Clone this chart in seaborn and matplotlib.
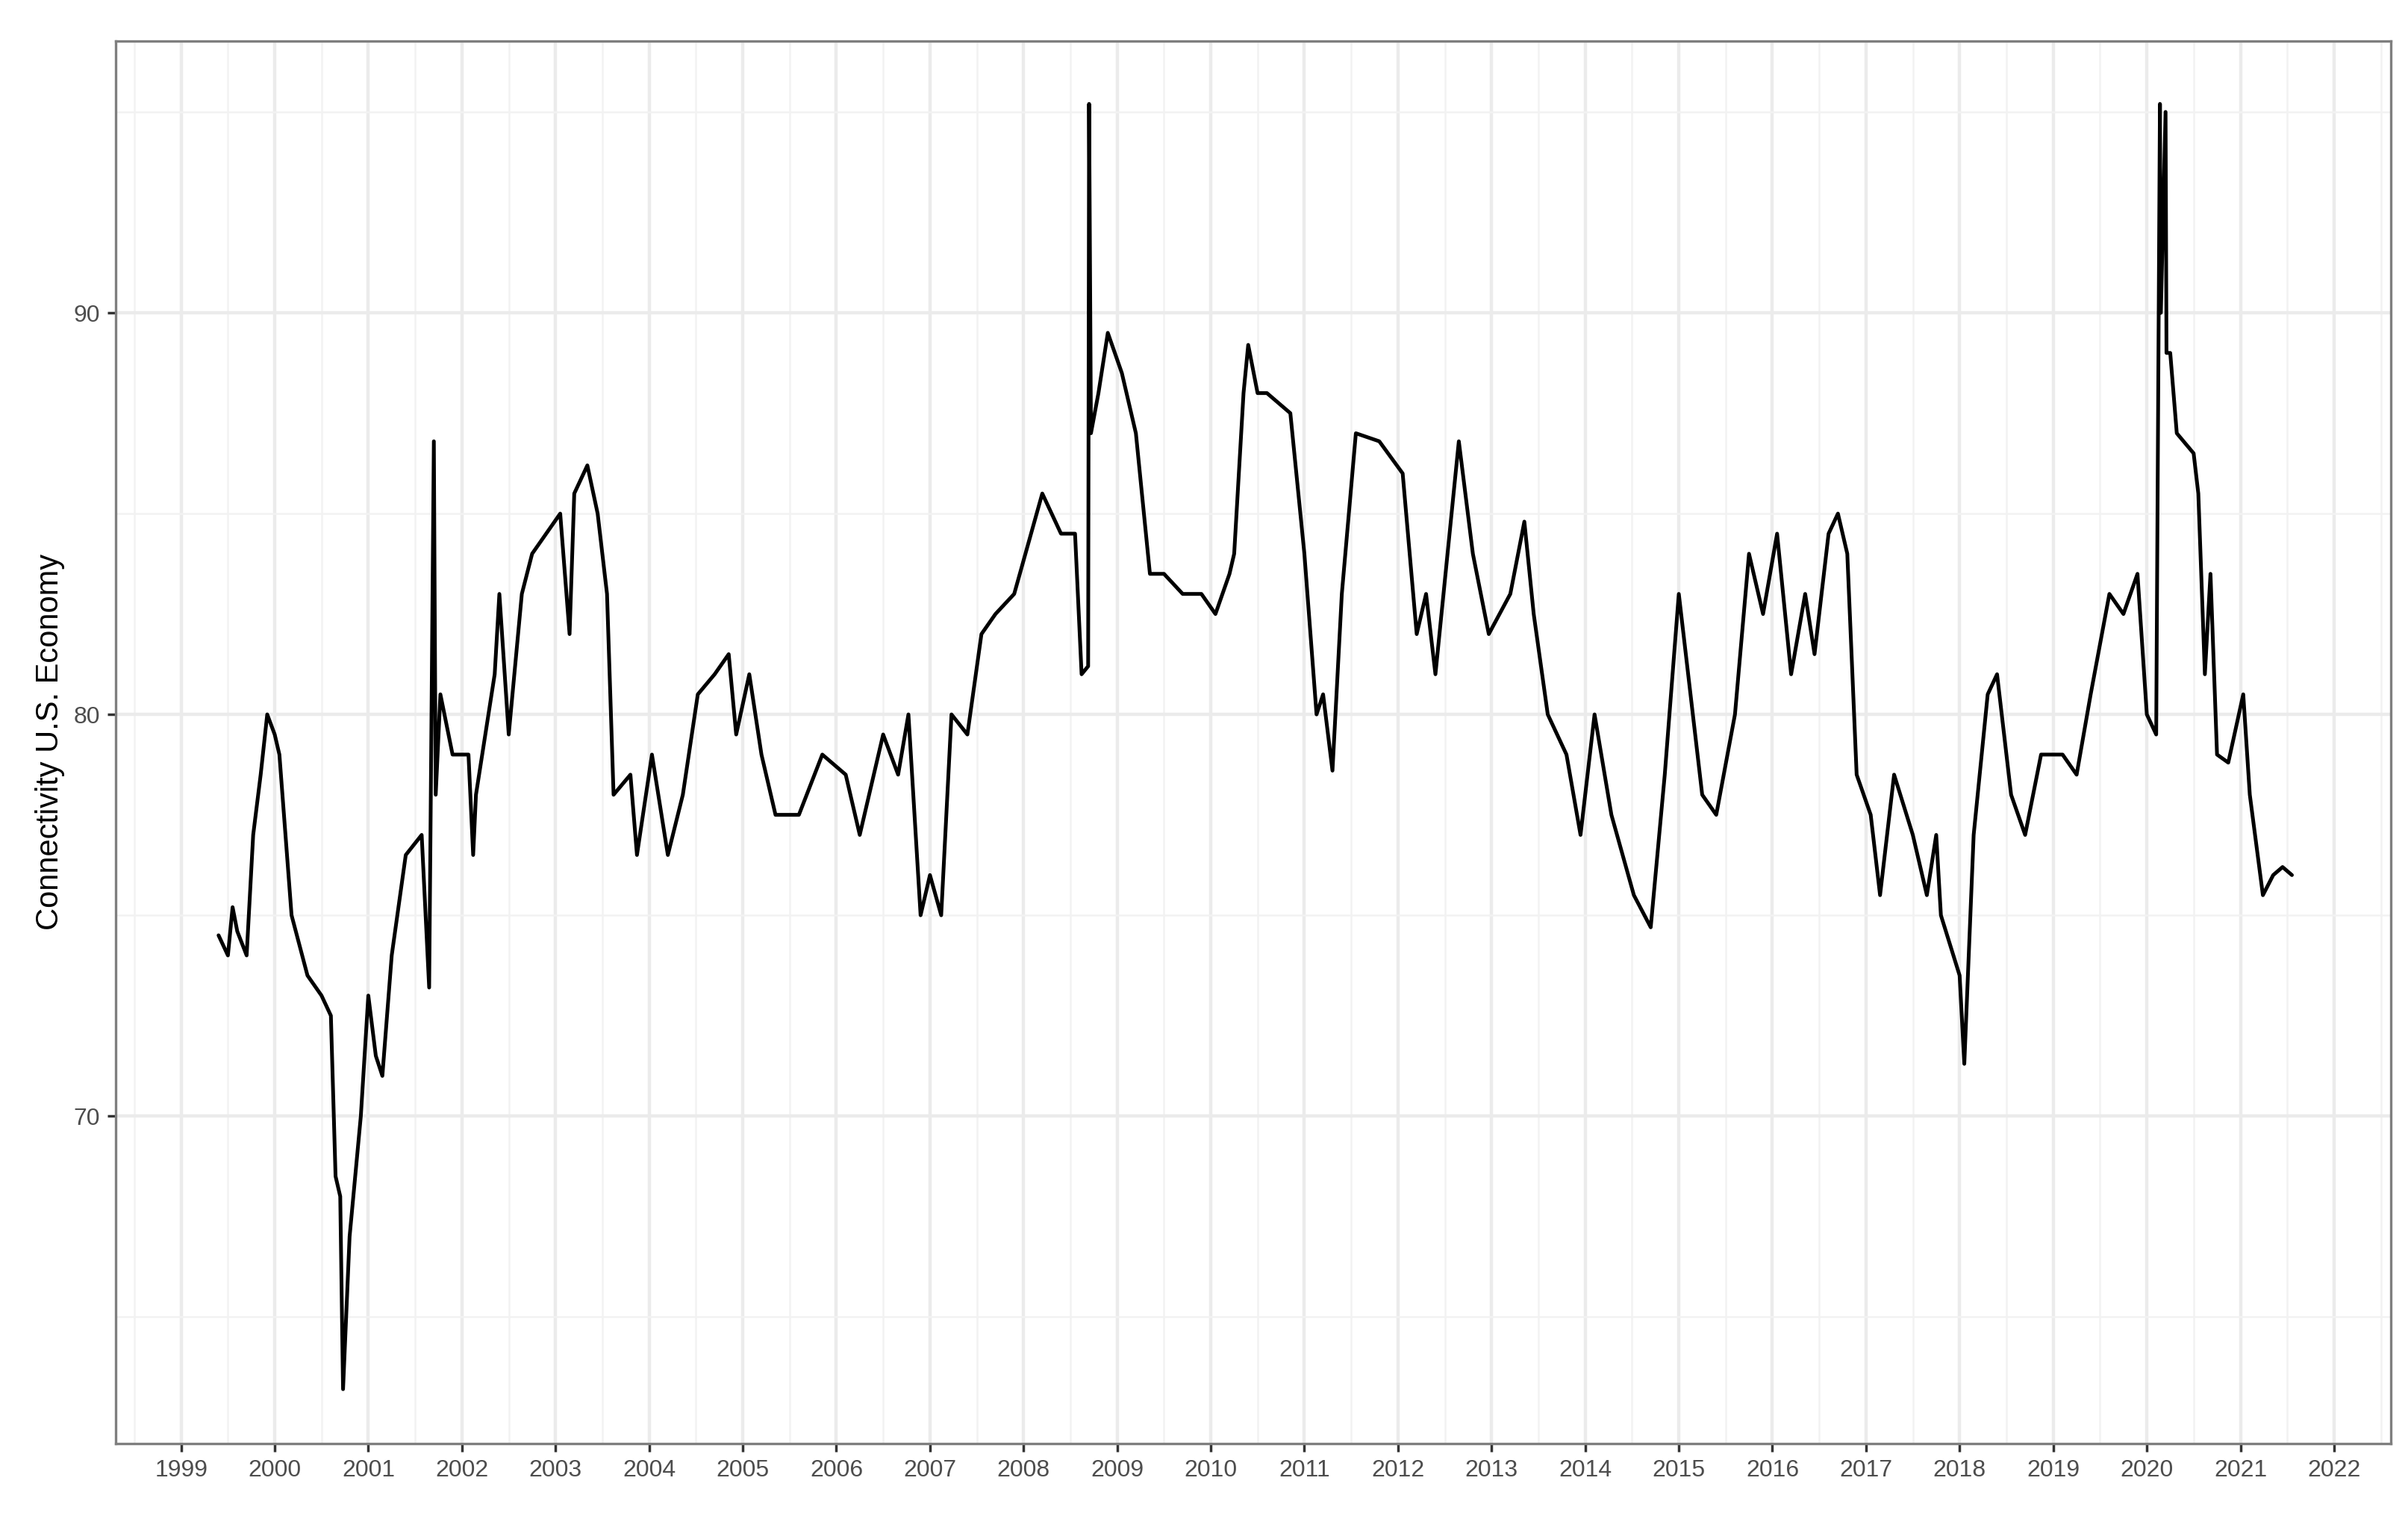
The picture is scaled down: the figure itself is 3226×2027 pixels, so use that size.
import numpy as np
import pandas as pd
import seaborn as sns
import matplotlib.pyplot as plt
from matplotlib.ticker import MultipleLocator

# values (decimal year, connectivity)
years = [
    1999.40, 1999.50, 1999.55, 1999.60, 1999.70, 1999.77, 1999.85, 1999.92, 2000.00, 2000.05,
    2000.18, 2000.35, 2000.50, 2000.60, 2000.65, 2000.70, 2000.73, 2000.80, 2000.92, 2001.00,
    2001.08, 2001.15, 2001.25, 2001.40, 2001.57, 2001.65, 2001.70, 2001.72, 2001.77, 2001.90,
    2002.07, 2002.12, 2002.15, 2002.35, 2002.40, 2002.50, 2002.64, 2002.75, 2002.90, 2003.05,
    2003.15, 2003.20, 2003.34, 2003.45, 2003.55, 2003.62, 2003.80, 2003.87, 2004.03, 2004.20,
    2004.36, 2004.52, 2004.70, 2004.85, 2004.93, 2005.07, 2005.20, 2005.35, 2005.60, 2005.85,
    2006.10, 2006.25, 2006.50, 2006.66, 2006.77, 2006.90, 2007.00, 2007.12, 2007.23, 2007.40,
    2007.55, 2007.70, 2007.90, 2008.20, 2008.40, 2008.55, 2008.62, 2008.69, 2008.70, 2008.72,
    2008.80, 2008.90, 2009.05, 2009.20, 2009.35, 2009.50, 2009.70, 2009.90, 2010.05, 2010.20,
    2010.25, 2010.35, 2010.40, 2010.50, 2010.60, 2010.85, 2011.00, 2011.13, 2011.20, 2011.30,
    2011.40, 2011.55, 2011.80, 2012.05, 2012.20, 2012.30, 2012.40, 2012.65, 2012.80, 2012.97,
    2013.20, 2013.35, 2013.45, 2013.60, 2013.80, 2013.95, 2014.10, 2014.28, 2014.52, 2014.70,
    2014.85, 2015.00, 2015.10, 2015.25, 2015.40, 2015.60, 2015.75, 2015.90, 2016.05, 2016.20,
    2016.35, 2016.45, 2016.60, 2016.70, 2016.80, 2016.90, 2017.05, 2017.15, 2017.30, 2017.50,
    2017.65, 2017.75, 2017.80, 2018.00, 2018.05, 2018.15, 2018.30, 2018.40, 2018.55, 2018.70,
    2018.87, 2019.10, 2019.25, 2019.40, 2019.60, 2019.75, 2019.90, 2020.00, 2020.10, 2020.14,
    2020.15, 2020.20, 2020.21, 2020.25, 2020.32, 2020.50, 2020.55, 2020.62, 2020.68, 2020.75,
    2020.87, 2021.03, 2021.10, 2021.24, 2021.35, 2021.45, 2021.55,
]
connectivity = [
    74.5, 74.0, 75.2, 74.6, 74.0, 77.0, 78.5, 80.0, 79.5, 79.0,
    75.0, 73.5, 73.0, 72.5, 68.5, 68.0, 63.2, 67.0, 70.0, 73.0,
    71.5, 71.0, 74.0, 76.5, 77.0, 73.2, 86.8, 78.0, 80.5, 79.0,
    79.0, 76.5, 78.0, 81.0, 83.0, 79.5, 83.0, 84.0, 84.5, 85.0,
    82.0, 85.5, 86.2, 85.0, 83.0, 78.0, 78.5, 76.5, 79.0, 76.5,
    78.0, 80.5, 81.0, 81.5, 79.5, 81.0, 79.0, 77.5, 77.5, 79.0,
    78.5, 77.0, 79.5, 78.5, 80.0, 75.0, 76.0, 75.0, 80.0, 79.5,
    82.0, 82.5, 83.0, 85.5, 84.5, 84.5, 81.0, 81.2, 95.2, 87.0,
    88.0, 89.5, 88.5, 87.0, 83.5, 83.5, 83.0, 83.0, 82.5, 83.5,
    84.0, 88.0, 89.2, 88.0, 88.0, 87.5, 84.0, 80.0, 80.5, 78.6,
    83.0, 87.0, 86.8, 86.0, 82.0, 83.0, 81.0, 86.8, 84.0, 82.0,
    83.0, 84.8, 82.5, 80.0, 79.0, 77.0, 80.0, 77.5, 75.5, 74.7,
    78.5, 83.0, 81.0, 78.0, 77.5, 80.0, 84.0, 82.5, 84.5, 81.0,
    83.0, 81.5, 84.5, 85.0, 84.0, 78.5, 77.5, 75.5, 78.5, 77.0,
    75.5, 77.0, 75.0, 73.5, 71.3, 77.0, 80.5, 81.0, 78.0, 77.0,
    79.0, 79.0, 78.5, 80.5, 83.0, 82.5, 83.5, 80.0, 79.5, 95.2,
    90.0, 95.0, 89.0, 89.0, 87.0, 86.5, 85.5, 81.0, 83.5, 79.0,
    78.8, 80.5, 78.0, 75.5, 76.0, 76.2, 76.0,
]
year_ticks = list(range(1999, 2023))

df = pd.DataFrame({'year': years, 'connectivity': connectivity})

sns.set_theme(style='white')
plt.rcParams['font.family'] = ['Liberation Sans', 'DejaVu Sans']

fig = plt.figure(figsize=(16.13, 10.135), dpi=200)
ax = fig.add_axes([0.048, 0.046, 0.945, 0.927])

sns.lineplot(data=df, x='year', y='connectivity', color='black', linewidth=1.8, sort=False, ax=ax)

ax.set_xlim(1998.3, 2022.61)
ax.set_ylim(61.85, 96.77)
ax.set_xticks(year_ticks)
ax.set_xticklabels([str(y) for y in year_ticks])
ax.xaxis.set_minor_locator(MultipleLocator(0.5))
ax.set_yticks([70, 80, 90])
ax.yaxis.set_minor_locator(MultipleLocator(5))

ax.grid(which='major', color='#ebebeb', linewidth=1.6)
ax.grid(which='minor', color='#f2f2f2', linewidth=0.9)
ax.set_axisbelow(True)
for s in ax.spines.values():
    s.set_color('#7f7f7f')
    s.set_linewidth(1.2)

ax.tick_params(axis='both', which='major', labelsize=11.5, labelcolor='#4d4d4d',
               length=4, color='#333333', left=True, bottom=True)
ax.tick_params(which='minor', length=0)
ax.set_xlabel('')
ax.set_ylabel('Connectivity U.S. Economy', fontsize=15, color='black')

fig.savefig('out.png', dpi=200)
